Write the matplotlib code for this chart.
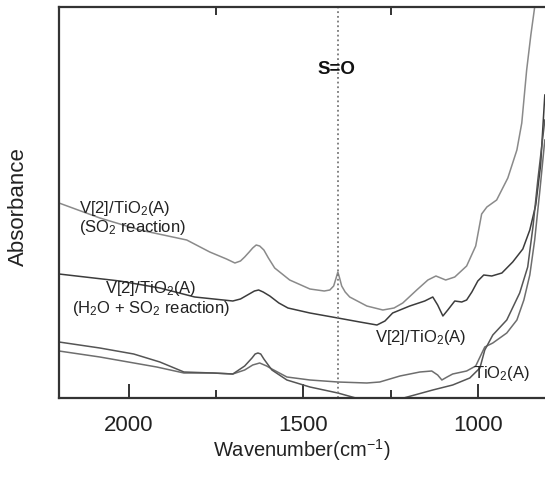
import matplotlib
matplotlib.use('Agg')
import matplotlib.pyplot as plt
from matplotlib.ticker import MultipleLocator

plt.rcParams['font.family'] = ['Liberation Sans', 'DejaVu Sans']
plt.rcParams['mathtext.default'] = 'regular'

# spectra (wavenumber cm-1, absorbance a.u.)
wn_so2 = [2200, 2083, 1968, 1834, 1768, 1720, 1696, 1680, 1668, 1655, 1645, 1635,
          1625, 1613, 1600, 1582, 1539, 1481, 1440, 1424, 1413, 1406, 1401, 1396,
          1390, 1380, 1367, 1318, 1272, 1240, 1215, 1175, 1143, 1120,
          1092, 1066, 1032, 1006, 989, 974, 946, 914, 888, 874, 860, 848, 837]
abs_so2 = [1.95, 1.80, 1.68, 1.58, 1.46, 1.39, 1.35, 1.37, 1.41, 1.46, 1.50, 1.53,
           1.52, 1.48, 1.40, 1.30, 1.18, 1.09, 1.07, 1.08, 1.12, 1.20, 1.26, 1.20,
           1.12, 1.06, 1.01, 0.92, 0.88, 0.90, 0.95, 1.08, 1.18, 1.22,
           1.18, 1.21, 1.32, 1.52, 1.84, 1.91, 1.98, 2.20, 2.48, 2.75, 3.28, 3.63, 3.91]

wn_h2o = [2200, 2026, 1911, 1811, 1702, 1680, 1660, 1640, 1628, 1615, 1596, 1570,
          1544, 1481, 1401, 1338, 1289, 1266, 1244, 1195, 1152, 1129, 1115, 1100,
          1086, 1066, 1046, 1032, 1017, 1000, 983, 960, 931, 900, 871, 851, 834, 820, 808]
abs_h2o = [1.24, 1.17, 1.10, 1.01, 0.97, 0.99, 1.03, 1.07, 1.08, 1.06, 1.02, 0.95,
           0.90, 0.85, 0.80, 0.76, 0.73, 0.77, 0.85, 0.92, 0.97, 1.01, 0.93, 0.82,
           0.88, 0.97, 0.96, 0.98, 1.06, 1.17, 1.23, 1.22, 1.25, 1.36, 1.49, 1.68, 1.93,
           2.33, 3.03]

wn_v2 = [2200, 2083, 1920, 1842, 1759, 1702, 1668, 1645, 1625, 1605, 1590, 1547,
         1481, 1401, 1318, 1281, 1223, 1166, 1132, 1115, 1103, 1088, 1072, 1032,
         1006, 991, 980, 957, 917, 888, 868, 851, 837, 822, 808]
abs_v2 = [0.47, 0.41, 0.31, 0.25, 0.25, 0.24, 0.28, 0.33, 0.35, 0.32, 0.29, 0.21,
          0.18, 0.16, 0.15, 0.16, 0.22, 0.26, 0.27, 0.23, 0.18, 0.21, 0.24, 0.27,
          0.32, 0.43, 0.51, 0.55, 0.65, 0.78, 0.98, 1.23, 1.58, 2.08, 2.58]

wn_tio2 = [2200, 2083, 1986, 1911, 1842, 1759, 1702, 1668, 1647, 1638, 1630, 1622,
           1613, 1590, 1547, 1481, 1401, 1329, 1281, 1223, 1129, 1072, 1023, 994,
           980, 957, 917, 880, 857, 842, 828, 808]
abs_tio2 = [0.56, 0.50, 0.44, 0.36, 0.26, 0.25, 0.24, 0.32, 0.40, 0.44, 0.45, 0.44,
            0.39, 0.28, 0.18, 0.11, 0.05, -0.02, -0.05, -0.01, 0.08, 0.13, 0.20, 0.30,
            0.48, 0.63, 0.78, 1.05, 1.31, 1.71, 2.18, 2.78]

SO_LINE = 1400
XMIN, XMAX = 2200, 800

fig = plt.figure(figsize=(5.45, 4.8), dpi=100)
ax = fig.add_axes([59 / 545, 1 - 398 / 480, 488.6 / 545, 391 / 480])

ax.plot(wn_so2, abs_so2, color='#8a8a8a', lw=1.1)
ax.plot(wn_h2o, abs_h2o, color='#3c3c3c', lw=1.1)
ax.plot(wn_v2, abs_v2, color='#6e6e6e', lw=1.1)
ax.plot(wn_tio2, abs_tio2, color='#555555', lw=1.1)

ax.axvline(SO_LINE, color='#777777', lw=1.3, linestyle=(0, (1, 1.6)))

ax.set_xlim(XMIN, XMAX)
ax.set_ylim(0, 3.91)
ax.set_yticks([])
ax.xaxis.set_major_locator(MultipleLocator(500))
ax.xaxis.set_minor_locator(MultipleLocator(250))
ax.tick_params(axis='x', which='major', direction='in', length=10, width=1.4,
               top=False, bottom=True, labelsize=16, pad=12, color='#333333',
               labelcolor='#222222')
ax.tick_params(axis='x', which='minor', direction='in', length=5.5, width=1.4,
               top=True, bottom=True, color='#333333')
for side in ['left', 'bottom', 'top']:
    ax.spines[side].set_linewidth(1.6)
    ax.spines[side].set_color('#333333')
ax.spines['right'].set_visible(False)

fs = 12
ax.text(2143, 1.80, 'V[2]/TiO$_2$(A)\n(SO$_2$ reaction)', fontsize=fs, ha='left', va='center',
        linespacing=1.05, color='#222222')
ax.text(1937, 0.995, 'V[2]/TiO$_2$(A)\n(H$_2$O + SO$_2$ reaction)', fontsize=fs, ha='center',
        va='center', multialignment='center', linespacing=1.05, color='#222222')
ax.text(1295, 0.605, 'V[2]/TiO$_2$(A)', fontsize=fs, ha='left', va='center', color='#222222')
ax.text(1014, 0.245, 'TiO$_2$(A)', fontsize=fs, ha='left', va='center', color='#222222')
ax.text(SO_LINE + 5, 3.29, 'S=O', fontsize=13.5, fontweight='bold', ha='center', va='center',
        color='#111111')

fig.text(302 / 545, 1 - 450 / 480, 'Wavenumber(cm$^{-1}$)', fontsize=14.5, ha='center', va='center',
         color='#222222')
fig.text(18 / 545, 1 - 207 / 480, 'Absorbance', fontsize=16, rotation=90, ha='center', va='center',
         color='#222222')

fig.savefig('out.png', dpi=100)
